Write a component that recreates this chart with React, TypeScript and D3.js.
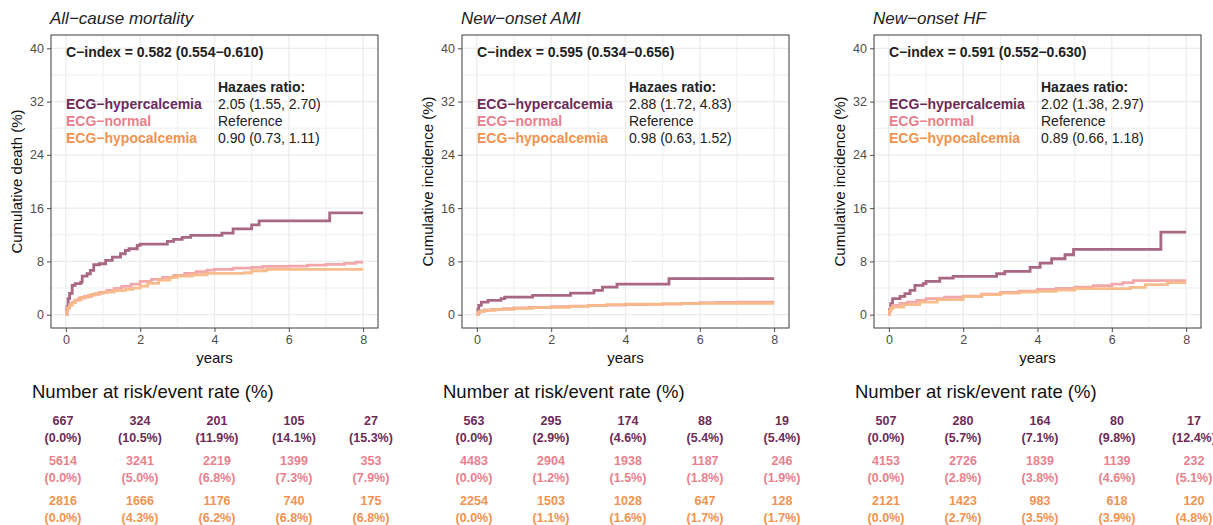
import React, { useEffect, useRef } from 'react';
import * as d3 from 'd3';

// ---- data ----
const groups = ['ECG−hypercalcemia', 'ECG−normal', 'ECG−hypocalcemia'];
const titles = ['All−cause mortality', 'New−onset AMI', 'New−onset HF'];
const yTitles = ['Cumulative death (%)', 'Cumulative incidence (%)', 'Cumulative incidence (%)'];
const cIndex = ['0.582 (0.554−0.610)', '0.595 (0.534−0.656)', '0.591 (0.552−0.630)'];
const hrMort = ['2.05 (1.55, 2.70)', 'Reference', '0.90 (0.73, 1.11)'];
const hrAmi = ['2.88 (1.72, 4.83)', 'Reference', '0.98 (0.63, 1.52)'];
const hrHf = ['2.02 (1.38, 2.97)', 'Reference', '0.89 (0.66, 1.18)'];

const xTicks = [0, 2, 4, 6, 8];
const yTicks = [0, 8, 16, 24, 32, 40];
const riskTimes = [0, 2, 4, 6, 8];

// [years, cumulative %]
const mortHyper = [[0,0],[0.03,1.2],[0.06,2.4],[0.1,3.2],[0.17,4.4],[0.25,4.65],[0.4,4.9],[0.44,5.8],[0.57,6.15],[0.66,6.65],[0.75,7.5],[0.9,7.65],[1.07,8.15],[1.25,8.65],[1.47,9.15],[1.6,9.65],[1.7,9.9],[1.92,10.4],[2.0,10.6],[2.73,11.0],[2.9,11.3],[3.13,11.6],[3.36,11.9],[4.2,12.25],[4.5,12.9],[5.0,13.5],[5.2,14.1],[7.1,15.3],[8,15.3]];
const mortNormal = [[0,0],[0.02,0.6],[0.05,1.1],[0.1,1.5],[0.17,1.9],[0.25,2.2],[0.35,2.5],[0.5,2.75],[0.7,3.05],[0.9,3.35],[1.1,3.65],[1.3,3.95],[1.5,4.25],[1.75,4.6],[2.0,5.0],[2.3,5.3],[2.6,5.6],[2.9,5.9],[3.2,6.2],[3.5,6.45],[3.8,6.7],[4.0,6.8],[4.5,7.0],[5.0,7.1],[5.3,7.25],[6.0,7.3],[6.5,7.45],[7.0,7.55],[7.5,7.7],[7.8,7.9],[8,7.9]];
const mortHypo = [[0,0],[0.02,0.5],[0.05,1.0],[0.1,1.4],[0.17,1.8],[0.25,2.2],[0.4,2.6],[0.6,2.95],[0.8,3.2],[1.0,3.4],[1.3,3.6],[1.6,3.8],[1.8,4.0],[2.0,4.3],[2.2,4.7],[2.5,5.2],[2.8,5.6],[3.0,5.8],[3.4,6.0],[3.8,6.2],[4.8,6.3],[5.0,6.6],[5.4,6.8],[8,6.8]];

const amiHyper = [[0,0],[0.03,0.8],[0.05,1.4],[0.12,1.9],[0.3,2.15],[0.65,2.4],[0.75,2.65],[1.5,2.9],[2.52,3.25],[3.15,3.65],[3.38,4.15],[3.77,4.6],[5.17,5.4],[8,5.4]];
const amiNormal = [[0,0],[0.03,0.3],[0.08,0.55],[0.2,0.7],[0.4,0.8],[0.7,0.9],[1.0,1.0],[1.4,1.1],[2.0,1.2],[2.5,1.3],[3.0,1.4],[3.5,1.45],[4.0,1.5],[4.5,1.55],[5.0,1.6],[5.5,1.7],[6.0,1.8],[6.5,1.85],[7.0,1.9],[8,1.9]];
const amiHypo = [[0,0],[0.03,0.3],[0.08,0.5],[0.2,0.65],[0.5,0.8],[1.0,0.95],[1.5,1.05],[2.0,1.1],[2.5,1.25],[3.0,1.4],[3.5,1.5],[4.0,1.6],[5.0,1.65],[6.0,1.7],[8,1.7]];

const hfHyper = [[0,0],[0.02,0.8],[0.05,1.65],[0.1,2.4],[0.3,2.75],[0.43,3.15],[0.57,3.65],[0.7,4.4],[0.92,4.65],[1.0,5.0],[1.37,5.5],[1.73,5.75],[2.9,6.15],[3.12,6.5],[3.8,7.1],[4.07,7.75],[4.38,8.4],[4.74,9.0],[4.97,9.8],[7.32,12.4],[8,12.4]];
const hfNormal = [[0,0],[0.02,0.6],[0.05,1.0],[0.1,1.4],[0.3,1.7],[0.5,1.9],[0.75,2.15],[1.0,2.4],[1.5,2.65],[2.0,2.8],[2.5,3.1],[3.0,3.35],[3.5,3.55],[4.0,3.8],[4.5,3.95],[5.0,4.15],[5.5,4.35],[6.0,4.6],[6.3,4.8],[6.58,5.1],[8,5.1]];
const hfHypo = [[0,0],[0.02,0.5],[0.05,0.9],[0.1,1.15],[0.4,1.5],[0.83,1.9],[1.3,2.25],[2.0,2.7],[2.5,3.0],[3.0,3.25],[3.5,3.4],[4.0,3.5],[4.5,3.7],[5.0,3.9],[6.0,3.9],[6.5,4.1],[6.9,4.5],[7.5,4.8],[8,4.8]];

// number at risk / event rate (%)
const mortRiskN = [[667,324,201,105,27],[5614,3241,2219,1399,353],[2816,1666,1176,740,175]];
const mortRiskR = [[0.0,10.5,11.9,14.1,15.3],[0.0,5.0,6.8,7.3,7.9],[0.0,4.3,6.2,6.8,6.8]];
const amiRiskN = [[563,295,174,88,19],[4483,2904,1938,1187,246],[2254,1503,1028,647,128]];
const amiRiskR = [[0.0,2.9,4.6,5.4,5.4],[0.0,1.2,1.5,1.8,1.9],[0.0,1.1,1.6,1.7,1.7]];
const hfRiskN = [[507,280,164,80,17],[4153,2726,1839,1139,232],[2121,1423,983,618,120]];
const hfRiskR = [[0.0,5.7,7.1,9.8,12.4],[0.0,2.8,3.8,4.6,5.1],[0.0,2.7,3.5,3.9,4.8]];

const lineColors = ['#a35f7c', '#f1a2a6', '#f8b987'];
const textColors = ['#6e2a58', '#e97f8c', '#f2924f'];

const panels = [
  { curves: [mortHyper, mortNormal, mortHypo], hr: hrMort, riskN: mortRiskN, riskR: mortRiskR },
  { curves: [amiHyper, amiNormal, amiHypo], hr: hrAmi, riskN: amiRiskN, riskR: amiRiskR },
  { curves: [hfHyper, hfNormal, hfHypo], hr: hrHf, riskN: hfRiskN, riskR: hfRiskR },
].map((p, i) => ({ ...p, title: titles[i], yTitle: yTitles[i], cIndex: cIndex[i] }));

const boxLefts = [51, 462, 874];
const boxW = 327, boxTop = 35, boxBottom = 328;
const font = "'Liberation Sans', Arial, sans-serif";

const App = () => {
  const ref = useRef(null);

  useEffect(() => {
    const svg = d3.select(ref.current);
    svg.selectAll('*').remove();
    svg.append('rect').attr('width', 1213).attr('height', 525).attr('fill', '#fff');

    panels.forEach((p, pi) => {
      const left = boxLefts[pi];
      const x = d3.scaleLinear().domain([-0.4, 8.4]).range([left, left + boxW]);
      const y = d3.scaleLinear().domain([-2, 42]).range([boxBottom, boxTop]);
      const g = svg.append('g').style('font-family', font);

      // title
      g.append('text').attr('x', left - 1).attr('y', 24)
        .attr('font-size', 17).attr('font-style', 'italic').attr('fill', '#222')
        .text(p.title);

      // grid
      const grid = g.append('g');
      d3.range(0, 42, 4).forEach((v) => {
        grid.append('line').attr('x1', left).attr('x2', left + boxW)
          .attr('y1', y(v)).attr('y2', y(v))
          .attr('stroke', '#ebebeb').attr('stroke-width', v % 8 === 0 ? 1.2 : 0.8);
      });
      d3.range(0, 9, 1).forEach((v) => {
        grid.append('line').attr('y1', boxTop).attr('y2', boxBottom)
          .attr('x1', x(v)).attr('x2', x(v))
          .attr('stroke', '#ebebeb').attr('stroke-width', v % 2 === 0 ? 1.2 : 0.8);
      });

      // curves
      const line = d3.line().x((d) => x(d[0])).y((d) => y(d[1])).curve(d3.curveStepAfter);
      p.curves.forEach((c, ci) => {
        g.append('path').datum(c).attr('d', line).attr('fill', 'none')
          .attr('stroke', lineColors[ci]).attr('stroke-width', 2.8)
          .attr('stroke-opacity', 0.95);
      });

      // border
      g.append('rect').attr('x', left).attr('y', boxTop).attr('width', boxW)
        .attr('height', boxBottom - boxTop).attr('fill', 'none')
        .attr('stroke', '#4d4d4d').attr('stroke-width', 1.1);

      // axes
      const ax = g.append('g').attr('transform', `translate(0,${boxBottom})`)
        .call(d3.axisBottom(x).tickValues(xTicks).tickSize(4).tickPadding(3));
      const ay = g.append('g').attr('transform', `translate(${left},0)`)
        .call(d3.axisLeft(y).tickValues(yTicks).tickSize(4).tickPadding(3));
      [ax, ay].forEach((a) => {
        a.select('.domain').remove();
        a.selectAll('line').attr('stroke', '#4d4d4d');
        a.selectAll('text').attr('fill', '#4d4d4d').attr('font-size', 12.5).style('font-family', font);
      });

      g.append('text').attr('x', x(4)).attr('y', 363).attr('text-anchor', 'middle')
        .attr('font-size', 15).attr('fill', '#111').text('years');
      g.append('text').attr('transform', `translate(${left - 29},${(boxTop + boxBottom) / 2}) rotate(-90)`)
        .attr('text-anchor', 'middle').attr('font-size', 15).attr('fill', '#111').text(p.yTitle);

      // annotations
      g.append('text').attr('x', left + 15).attr('y', 57).attr('font-size', 14)
        .attr('font-weight', 'bold').attr('fill', '#222').text(`C−index = ${p.cIndex}`);
      g.append('text').attr('x', left + 167).attr('y', 92).attr('font-size', 14)
        .attr('font-weight', 'bold').attr('fill', '#222').text('Hazaes ratio:');
      groups.forEach((name, gi) => {
        g.append('text').attr('x', left + 15).attr('y', 109 + gi * 17).attr('font-size', 14)
          .attr('font-weight', 'bold').attr('fill', textColors[gi]).text(name);
        g.append('text').attr('x', left + 167).attr('y', 109 + gi * 17).attr('font-size', 14)
          .attr('fill', '#222').text(p.hr[gi]);
      });

      // risk table
      const rx = d3.scaleLinear().domain([0, 8]).range([left + 12, left + 320]);
      g.append('text').attr('x', left - 19).attr('y', 398).attr('font-size', 18.5)
        .attr('fill', '#111').text('Number at risk/event rate (%)');
      groups.forEach((_, gi) => {
        riskTimes.forEach((t, ti) => {
          const tx = g.append('text').attr('text-anchor', 'middle').attr('font-size', 12.5)
            .attr('font-weight', 'bold').attr('fill', textColors[gi]);
          tx.append('tspan').attr('x', rx(t)).attr('y', 425 + gi * 40).text(p.riskN[gi][ti]);
          tx.append('tspan').attr('x', rx(t)).attr('y', 442 + gi * 40)
            .text(`(${p.riskR[gi][ti].toFixed(1)}%)`);
        });
      });
    });
  }, []);

  return (
    <svg ref={ref} width={1213} height={525}
      style={{ position: 'absolute', left: 0, top: 0, display: 'block' }} />
  );
};

export default App;
